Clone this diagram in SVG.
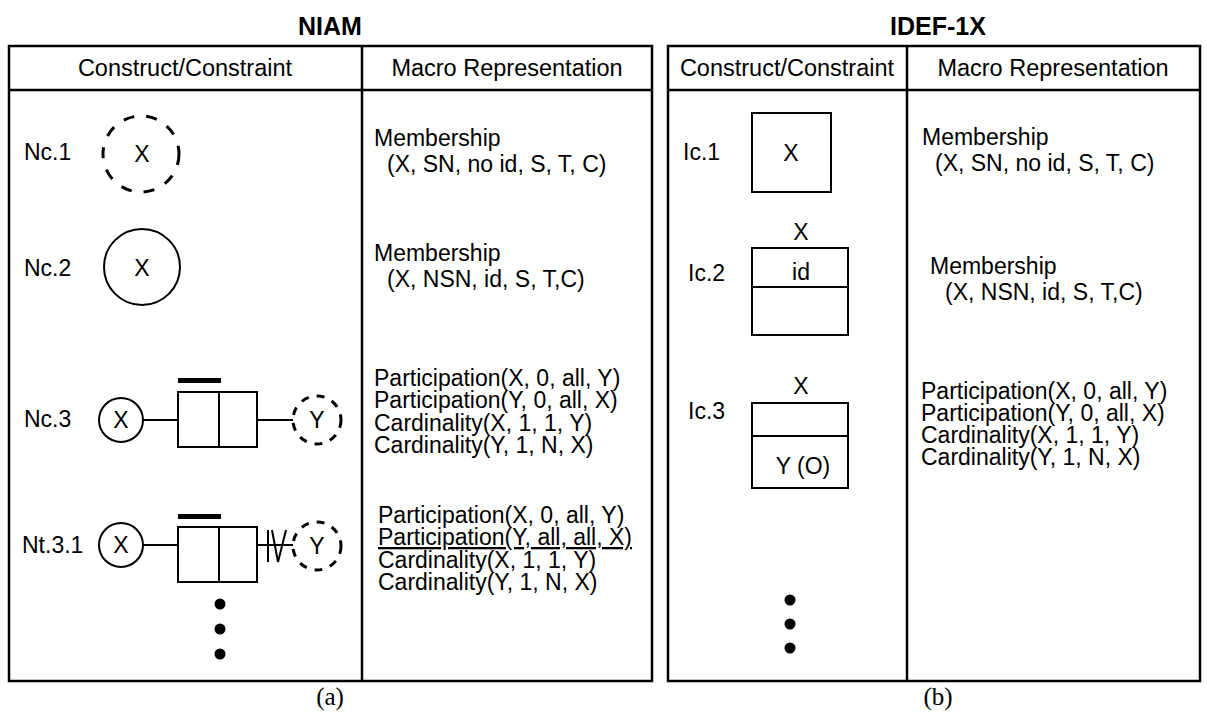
<svg xmlns="http://www.w3.org/2000/svg" width="1207" height="715" viewBox="0 0 1207 715">
<style>
text{font-family:"Liberation Sans",Arial,sans-serif;font-size:23px;fill:#000}
.title{font-weight:bold;font-size:25px;text-anchor:middle}
.hdr{font-size:23.5px;text-anchor:middle}
.mid{text-anchor:middle}
.cap{font-family:"Liberation Serif","Times New Roman",serif;font-size:25px;text-anchor:middle}
.frame{fill:none;stroke:#000;stroke-width:2.5}
.ln{fill:none;stroke:#000;stroke-width:2}
.ent{fill:#fff;stroke:#000;stroke-width:2}
.dash{fill:#fff;stroke:#000;stroke-width:3;stroke-dasharray:11 12}
.dashs{fill:#fff;stroke:#000;stroke-width:3;stroke-dasharray:8 8}
.bar{fill:#000}
.dot{fill:#000}
</style>
<rect width="1207" height="715" fill="#fff"/>

<g id="panel-a">
  <text class="title" x="330" y="35">NIAM</text>
  <rect class="frame" x="9" y="46" width="643" height="635"/>
  <line class="frame" x1="9" y1="90" x2="652" y2="90"/>
  <line class="frame" x1="362" y1="46" x2="362" y2="681"/>
  <text class="hdr" x="185" y="76">Construct/Constraint</text>
  <text class="hdr" x="507" y="76">Macro Representation</text>
  <text class="cap" x="330" y="705">(a)</text>
</g>

<g id="panel-b">
  <text class="title" x="938" y="35">IDEF-1X</text>
  <rect class="frame" x="668" y="46" width="532" height="635"/>
  <line class="frame" x1="668" y1="90" x2="1200" y2="90"/>
  <line class="frame" x1="907" y1="46" x2="907" y2="681"/>
  <text class="hdr" x="787" y="76">Construct/Constraint</text>
  <text class="hdr" x="1053" y="76">Macro Representation</text>
  <text class="cap" x="938" y="705">(b)</text>
</g>

<g id="connectors">
  <line class="ln" x1="143" y1="420" x2="178" y2="420"/>
  <line class="ln" x1="257" y1="420" x2="293" y2="420"/>
  <line class="ln" x1="143" y1="545" x2="178" y2="545"/>
  <line class="ln" x1="257" y1="545" x2="293" y2="545"/>
  <line class="ln" x1="268" y1="530" x2="268" y2="562"/>
  <polyline class="ln" points="272,530 278,562 286,530"/>
</g>

<g id="Nc1">
  <text x="24" y="160">Nc.1</text>
  <circle class="dash" cx="141" cy="154" r="38"/>
  <text class="mid" x="142" y="162">X</text>
  <text x="374" y="146">Membership</text>
  <text x="387" y="172">(X, SN, no id, S, T, C)</text>
</g>

<g id="Nc2">
  <text x="24" y="276">Nc.2</text>
  <circle class="ent" cx="142" cy="267" r="38"/>
  <text class="mid" x="142" y="276">X</text>
  <text x="374" y="261">Membership</text>
  <text x="387" y="287">(X, NSN, id, S, T,C)</text>
</g>

<g id="Nc3">
  <text x="24" y="427">Nc.3</text>
  <circle class="ent" cx="121" cy="420" r="22"/>
  <text class="mid" x="121" y="428">X</text>
  <rect class="bar" x="178" y="378" width="43" height="5"/>
  <rect class="ent" x="178" y="392" width="79" height="55"/>
  <line class="ln" x1="219" y1="392" x2="219" y2="447"/>
  <circle class="dashs" cx="317" cy="420" r="24"/>
  <text class="mid" x="317" y="428">Y</text>
  <text x="374" y="386">Participation(X, 0, all, Y)</text>
  <text x="374" y="408">Participation(Y, 0, all, X)</text>
  <text x="374" y="431">Cardinality(X, 1, 1, Y)</text>
  <text x="374" y="453">Cardinality(Y, 1, N, X)</text>
</g>

<g id="Nt31">
  <text x="22" y="553">Nt.3.1</text>
  <circle class="ent" cx="121" cy="545" r="22"/>
  <text class="mid" x="121" y="553">X</text>
  <rect class="bar" x="178" y="514" width="43" height="5"/>
  <rect class="ent" x="178" y="527" width="79" height="55"/>
  <line class="ln" x1="219" y1="527" x2="219" y2="582"/>
  <circle class="dashs" cx="317" cy="546" r="24"/>
  <text class="mid" x="317" y="554">Y</text>
  <text x="378" y="523">Participation(X, 0, all, Y)</text>
  <text x="378" y="545" text-decoration="underline">Participation(Y, all, all, X)</text>
  <text x="378" y="568">Cardinality(X, 1, 1, Y)</text>
  <text x="378" y="590">Cardinality(Y, 1, N, X)</text>
</g>

<g id="dots-a">
  <circle class="dot" cx="220" cy="604" r="5.5"/>
  <circle class="dot" cx="220" cy="629" r="5.5"/>
  <circle class="dot" cx="220" cy="654" r="5.5"/>
</g>

<g id="Ic1">
  <text x="683" y="160">Ic.1</text>
  <rect class="ent" x="752" y="113" width="79" height="79"/>
  <text class="mid" x="791" y="161">X</text>
  <text x="922" y="145">Membership</text>
  <text x="935" y="171">(X, SN, no id, S, T, C)</text>
</g>

<g id="Ic2">
  <text x="688" y="281">Ic.2</text>
  <text class="mid" x="801" y="240">X</text>
  <rect class="ent" x="752" y="248" width="96" height="87"/>
  <line class="ln" x1="752" y1="287" x2="848" y2="287"/>
  <text class="mid" x="801" y="280">id</text>
  <text x="930" y="274">Membership</text>
  <text x="945" y="300">(X, NSN, id, S, T,C)</text>
</g>

<g id="Ic3">
  <text x="688" y="419">Ic.3</text>
  <text class="mid" x="801" y="394">X</text>
  <rect class="ent" x="752" y="403" width="96" height="85"/>
  <line class="ln" x1="752" y1="436" x2="848" y2="436"/>
  <text class="mid" x="803" y="474">Y (O)</text>
  <text x="921" y="399">Participation(X, 0, all, Y)</text>
  <text x="921" y="421">Participation(Y, 0, all, X)</text>
  <text x="921" y="443">Cardinality(X, 1, 1, Y)</text>
  <text x="921" y="465">Cardinality(Y, 1, N, X)</text>
</g>

<g id="dots-b">
  <circle class="dot" cx="790" cy="600" r="5.5"/>
  <circle class="dot" cx="790" cy="624" r="5.5"/>
  <circle class="dot" cx="790" cy="648" r="5.5"/>
</g>
</svg>
